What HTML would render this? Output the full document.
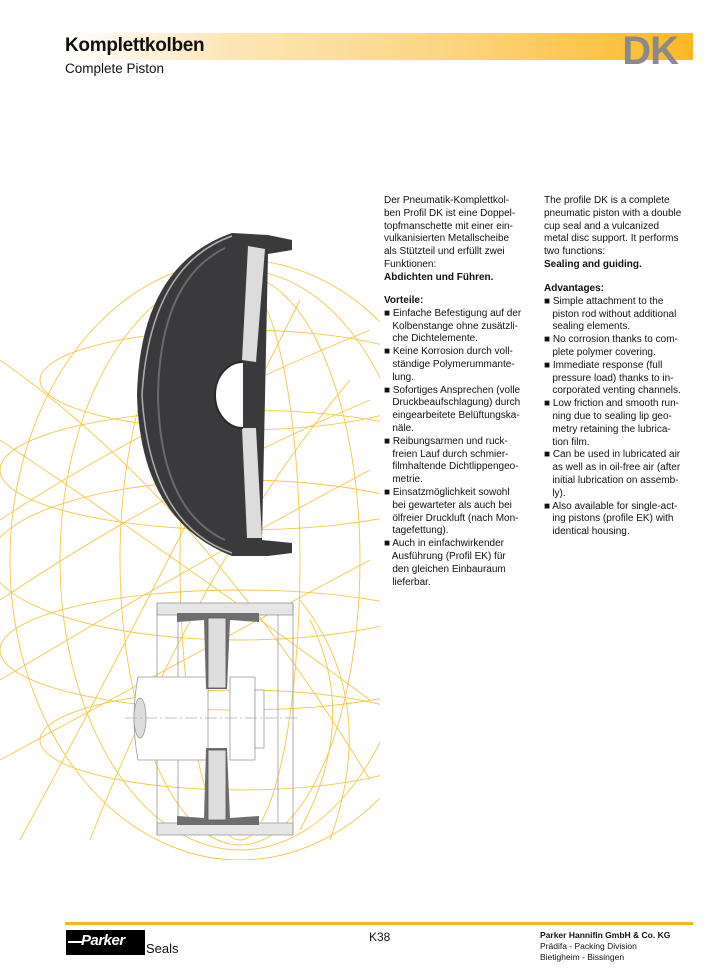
<!DOCTYPE html>
<html><head><meta charset="utf-8"><style>
html,body{margin:0;padding:0;background:#fff}
body{width:720px;height:971px;position:relative;overflow:hidden;font-family:"Liberation Sans",sans-serif;color:#111}
.hdr{position:absolute;left:65px;top:33px;width:628px;height:27px;background:linear-gradient(90deg,#fff 0%,#fde7b8 25%,#fcd37a 65%,#fbb823 100%)}
.t1{position:absolute;left:65px;top:35px;font-size:19px;font-weight:bold;letter-spacing:-0.3px}
.t2{position:absolute;left:65px;top:61px;font-size:13.5px}
.dk{position:absolute;right:42px;top:29px;font-size:40px;font-weight:bold;color:#8a8a8a;letter-spacing:-1px}
.col{position:absolute;font-size:10px;line-height:12.8px;white-space:pre}
.b{font-weight:bold}
.fl{position:absolute;left:65px;top:922px;width:628px;height:3px;background:#f7b71c}
</style></head><body>
<div class="hdr"></div>
<div class="t1">Komplettkolben</div>
<div class="t2">Complete Piston</div>
<div class="dk">DK</div>

<svg style="position:absolute;left:0;top:0" width="380" height="860" viewBox="0 0 380 860">
<g fill="none" stroke="#f2c230" stroke-width="0.9" opacity="0.9">
<ellipse cx="240" cy="560" rx="230" ry="300"/>
<ellipse cx="240" cy="560" rx="180" ry="290"/>
<ellipse cx="240" cy="560" rx="120" ry="285"/>
<ellipse cx="240" cy="560" rx="60" ry="280"/>
<ellipse cx="240" cy="560" rx="250" ry="80"/>
<ellipse cx="240" cy="470" rx="240" ry="60"/>
<ellipse cx="240" cy="650" rx="240" ry="60"/>
<ellipse cx="240" cy="380" rx="200" ry="50"/>
<ellipse cx="240" cy="740" rx="200" ry="50"/>
<path d="M0 520 Q150 420 370 330"/><path d="M0 600 Q180 480 370 400"/>
<path d="M0 680 Q200 560 370 470"/><path d="M0 760 Q220 640 370 560"/>
<path d="M0 440 Q180 560 370 700"/><path d="M0 360 Q200 500 370 780"/>
<path d="M20 840 Q150 600 300 300"/><path d="M90 840 Q200 560 350 380"/>
<path d="M300 600 Q380 700 330 840"/><path d="M310 620 Q360 720 300 830"/>
</g>
<!-- upper piston -->
<path d="M232 233 L268 235 L292 240 L292 250 L268 254 L262 540 L292 543 L292 553 L268 556 L232 556 Q140 520 137 395 Q140 265 232 233 Z" fill="#3a3a3c"/>
<path d="M225 248 Q160 280 158 395 Q160 510 225 540" fill="none" stroke="#6a6a6c" stroke-width="2"/>
<path d="M232 236 Q150 265 142 395 Q150 525 232 553" fill="none" stroke="#b0b0b0" stroke-width="1.5"/>
<polygon points="248,246 265,249 256,362 242,360" fill="#dcdcdc"/>
<polygon points="242,428 256,428 262,538 247,538" fill="#dcdcdc"/>
<path d="M243 362 A28 33 0 0 0 243 428" fill="#fff" stroke="#2a2a2a" stroke-width="2"/>
<!-- lower section -->
<g stroke="#999" stroke-width="0.8">
<rect x="157" y="603" width="136" height="12" fill="#e6e6e6"/>
<rect x="157" y="823" width="136" height="12" fill="#e6e6e6"/>
<line x1="157" y1="603" x2="157" y2="835"/><line x1="293" y1="603" x2="293" y2="835"/>
<line x1="178" y1="615" x2="178" y2="823"/><line x1="278" y1="615" x2="278" y2="823"/>
<path d="M138 677 L208 677 L208 760 L138 760 Q130 718 138 677 Z" fill="#fff"/>
<ellipse cx="140" cy="718" rx="6" ry="20" fill="#ddd"/>
<rect x="230" y="677" width="25" height="83" fill="#fff"/>
<rect x="255" y="690" width="9" height="58" fill="#fff"/>
</g>
<path d="M177 613 L259 613 L259 622 L230 620 L227 689 L206 689 L204 620 L177 622 Z" fill="#6e6e70"/>
<path d="M177 825 L259 825 L259 816 L230 818 L227 748 L206 748 L204 818 L177 816 Z" fill="#6e6e70"/>
<rect x="208" y="618" width="18" height="70" fill="#dedede" stroke="#555" stroke-width="0.8"/>
<rect x="208" y="750" width="18" height="70" fill="#dedede" stroke="#555" stroke-width="0.8"/>
<line x1="125" y1="718" x2="300" y2="718" stroke="#aaa" stroke-width="0.7" stroke-dasharray="12 3 2 3"/>
</svg>

<div class="col" style="left:384px;top:195px">Der Pneumatik-Komplettkol-
ben Profil DK ist eine Doppel-
topfmanschette mit einer ein-
vulkanisierten Metallscheibe
als Stützteil und erfüllt zwei
Funktionen:
<span class="b">Abdichten und Führen.</span></div>
<div class="col" style="left:384px;top:295px"><span class="b">Vorteile:</span>
■ Einfache Befestigung auf der
   Kolbenstange ohne zusätzli-
   che Dichtelemente.
■ Keine Korrosion durch voll-
   ständige Polymerummante-
   lung.
■ Sofortiges Ansprechen (volle
   Druckbeaufschlagung) durch
   eingearbeitete Belüftungska-
   näle.
■ Reibungsarmen und ruck-
   freien Lauf durch schmier-
   filmhaltende Dichtlippengeo-
   metrie.
■ Einsatzmöglichkeit sowohl
   bei gewarteter als auch bei
   ölfreier Druckluft (nach Mon-
   tagefettung).
■ Auch in einfachwirkender
   Ausführung (Profil EK) für
   den gleichen Einbauraum
   lieferbar.</div>
<div class="col" style="left:544px;top:195px">The profile DK is a complete
pneumatic piston with a double
cup seal and a vulcanized
metal disc support. It performs
two functions:
<span class="b">Sealing and guiding.</span></div>
<div class="col" style="left:544px;top:283px"><span class="b">Advantages:</span>
■ Simple attachment to the
   piston rod without additional
   sealing elements.
■ No corrosion thanks to com-
   plete polymer covering.
■ Immediate response (full
   pressure load) thanks to in-
   corporated venting channels.
■ Low friction and smooth run-
   ning due to sealing lip geo-
   metry retaining the lubrica-
   tion film.
■ Can be used in lubricated air
   as well as in oil-free air (after
   initial lubrication on assemb-
   ly).
■ Also available for single-act-
   ing pistons (profile EK) with
   identical housing.</div>

<div class="fl"></div>
<div style="position:absolute;left:66px;top:930px;width:79px;height:25px;background:#000"></div>
<div style="position:absolute;left:68px;top:941px;width:14px;height:2px;background:#fff"></div>
<div style="position:absolute;left:81px;top:932px;font-size:15px;font-weight:bold;color:#fff;font-style:italic;letter-spacing:-0.5px">Parker</div>
<div style="position:absolute;left:146px;top:941px;font-size:13px">Seals</div>
<div style="position:absolute;left:369px;top:930px;font-size:12px">K38</div>
<div style="position:absolute;left:540px;top:930px;font-size:8.5px;line-height:11px"><b>Parker Hannifin GmbH &amp; Co. KG</b><br>Prädifa - Packing Division<br>Bietigheim - Bissingen</div>
</body></html>
